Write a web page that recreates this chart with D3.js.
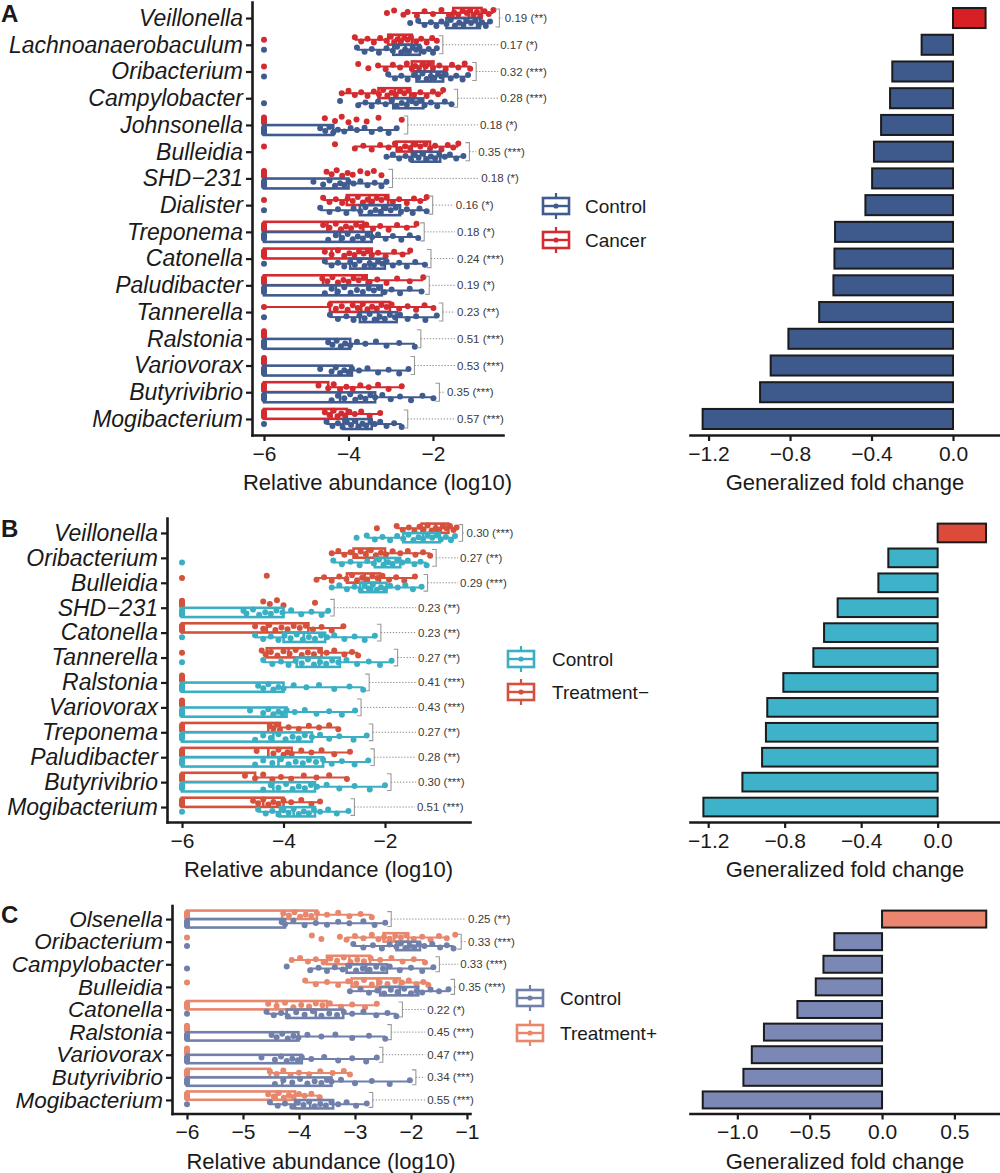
<!DOCTYPE html>
<html><head><meta charset="utf-8">
<script src="https://cdn.jsdelivr.net/npm/d3@7"></script>
<style>body{margin:0;background:#fff}svg{display:block}</style>
</head><body><svg id="c" width="1000" height="1173"></svg>
<script>
// ===== Panel A data =====
const taxaA = ["Veillonella","Lachnoanaerobaculum","Oribacterium","Campylobacter","Johnsonella","Bulleidia","SHD−231","Dialister","Treponema","Catonella","Paludibacter","Tannerella","Ralstonia","Variovorax","Butyrivibrio","Mogibacterium"];
const groupsA = ["Control","Cancer"];
// box stats: [whiskerLow, q1, median, q3, whiskerHigh] (log10)
const boxA_cancer = [[-2.5,-1.52,-1.15,-0.85,-0.57],[-3.85,-3.06,-2.8,-2.5,-1.91],[-3.3,-2.5,-2.2,-1.99,-1.12],[-4.16,-3.29,-2.9,-2.54,-1.76],[-6,-6,-6,-6,-6],[-3.85,-2.86,-2.5,-2.07,-1.4],[-6,-6,-6,-6,-6],[-4.6,-4.04,-3.5,-3.06,-2.15],[-6,-6,-4.5,-3.65,-2.39],[-6,-6,-4.4,-3.45,-2.54],[-6,-6,-4.6,-3.57,-2.23],[-6,-4.44,-3.7,-3.02,-1.99],[-6,-6,-6,-6,-6],[-6,-6,-6,-6,-6],[-6,-6,-6,-4.48,-2.74],[-6,-6,-4.4,-4.04,-3.25]];
const boxA_control = [[-2.35,-1.68,-1.25,-0.89,-0.65],[-3.8,-2.94,-2.65,-2.31,-1.91],[-3.06,-2.39,-2.05,-1.76,-1.17],[-3.77,-2.94,-2.6,-2.23,-1.56],[-6,-6,-6,-4.36,-2.86],[-3.1,-2.5,-2.2,-1.83,-1.28],[-6,-6,-6,-4.0,-3.1],[-4.67,-3.73,-3.2,-2.78,-2.15],[-6,-6,-4.2,-3.45,-2.35],[-4.56,-3.96,-3.5,-3.14,-2.19],[-6,-6,-4.3,-3.21,-2.27],[-4.44,-3.73,-3.3,-2.86,-1.91],[-6,-6,-6,-3.96,-2.43],[-6,-6,-6,-3.92,-2.58],[-6,-6,-4.2,-3.37,-1.99],[-4.52,-4.12,-3.8,-3.45,-2.74]];
const ptsA_cancer = [
[-3.09,-2.92,-2.7,-2.6,-2.38,-2.2,-2.0,-1.8,-1.62,-1.5,-1.4,-1.3,-1.2,-1.12,-1.04,-0.96,-0.88,-0.78,-0.68,-0.57],
[-6,-3.85,-3.7,-3.55,-3.4,-3.25,-3.1,-3.0,-2.92,-2.84,-2.76,-2.68,-2.6,-2.52,-2.4,-2.28,-2.15,-2.02,-1.91],
[-6,-3.77,-3.53,-3.3,-3.12,-2.95,-2.78,-2.62,-2.5,-2.42,-2.33,-2.25,-2.17,-2.09,-2.0,-1.85,-1.7,-1.55,-1.4,-1.25,-1.12],
[-4.16,-4.0,-3.85,-3.7,-3.55,-3.4,-3.28,-3.18,-3.08,-2.98,-2.88,-2.78,-2.68,-2.58,-2.45,-2.3,-2.15,-2.0,-1.88,-1.76],
[-6,-6,-6,-6,-6,-4.56,-4.32,-4.16,-4.0,-3.81,-3.57,-3.29,-2.74],
[-6,-4.32,-3.85,-3.65,-3.45,-3.25,-3.05,-2.9,-2.78,-2.66,-2.54,-2.42,-2.3,-2.18,-2.07,-1.95,-1.8,-1.65,-1.52,-1.4],
[-6,-6,-6,-6,-6,-4.52,-4.4,-4.28,-4.15,-4.02,-3.9,-3.72,-3.55,-3.4,-3.22],
[-6,-4.6,-4.45,-4.3,-4.15,-4.02,-3.9,-3.78,-3.66,-3.55,-3.44,-3.33,-3.22,-3.1,-2.95,-2.8,-2.62,-2.45,-2.3,-2.15],
[-6,-6,-6,-6,-6,-4.6,-4.45,-4.3,-4.18,-4.06,-3.94,-3.82,-3.7,-3.58,-3.42,-3.25,-3.05,-2.85,-2.62,-2.39],
[-6,-6,-6,-6,-6,-4.56,-4.4,-4.25,-4.1,-3.98,-3.86,-3.75,-3.64,-3.54,-3.45,-3.3,-3.12,-2.92,-2.72,-2.54],
[-6,-6,-6,-6,-6,-4.62,-4.5,-4.38,-4.25,-4.12,-4.0,-3.88,-3.76,-3.64,-3.5,-3.32,-3.1,-2.85,-2.55,-2.23],
[-6,-4.44,-4.3,-4.16,-4.02,-3.9,-3.78,-3.66,-3.55,-3.44,-3.33,-3.22,-3.1,-2.98,-2.8,-2.6,-2.4,-2.2,-1.99],
[-6,-6,-6,-6,-6],
[-6,-6,-6,-6,-6],
[-6,-6,-6,-6,-6,-4.71,-4.48,-4.35,-4.2,-4.05,-3.9,-3.72,-3.52,-3.3,-3.05,-2.74],
[-6,-6,-6,-6,-6,-4.56,-4.45,-4.35,-4.26,-4.17,-4.08,-3.98,-3.85,-3.7,-3.5,-3.25]];
const ptsA_control = [
[-2.54,-2.35,-2.2,-2.05,-1.92,-1.8,-1.68,-1.58,-1.48,-1.38,-1.28,-1.2,-1.1,-1.0,-0.92,-0.84,-0.75,-0.65],
[-6,-3.8,-3.62,-3.45,-3.28,-3.1,-2.95,-2.85,-2.75,-2.66,-2.57,-2.48,-2.4,-2.32,-2.22,-2.1,-2.0,-1.91],
[-6,-3.06,-2.9,-2.75,-2.6,-2.45,-2.35,-2.25,-2.15,-2.05,-1.97,-1.88,-1.8,-1.7,-1.58,-1.45,-1.3,-1.17],
[-6,-4.2,-3.77,-3.6,-3.45,-3.3,-3.12,-2.98,-2.86,-2.74,-2.62,-2.5,-2.4,-2.3,-2.2,-2.05,-1.9,-1.72,-1.56],
[-6,-6,-6,-6,-6,-4.67,-4.55,-4.45,-4.36,-4.25,-4.1,-3.95,-3.8,-3.62,-3.45,-3.25,-3.05,-2.86],
[-3.1,-2.95,-2.8,-2.65,-2.52,-2.43,-2.34,-2.25,-2.15,-2.05,-1.95,-1.85,-1.72,-1.6,-1.45,-1.28],
[-6,-6,-6,-6,-6,-4.83,-4.6,-4.45,-4.32,-4.2,-4.1,-4.0,-3.88,-3.72,-3.55,-3.38,-3.22,-3.1],
[-6,-4.67,-4.45,-4.25,-4.05,-3.88,-3.72,-3.6,-3.48,-3.36,-3.24,-3.12,-3.0,-2.88,-2.76,-2.62,-2.48,-2.32,-2.15],
[-6,-6,-6,-6,-4.48,-4.3,-4.15,-4.02,-3.9,-3.78,-3.66,-3.55,-3.44,-3.3,-3.12,-2.95,-2.75,-2.55,-2.35],
[-6,-4.56,-4.4,-4.25,-4.1,-3.96,-3.85,-3.74,-3.62,-3.5,-3.4,-3.3,-3.2,-3.1,-2.95,-2.8,-2.62,-2.42,-2.19],
[-6,-6,-6,-6,-4.56,-4.4,-4.25,-4.1,-3.95,-3.8,-3.66,-3.52,-3.4,-3.28,-3.15,-2.98,-2.78,-2.55,-2.27],
[-6,-4.44,-4.25,-4.05,-3.88,-3.74,-3.62,-3.5,-3.38,-3.26,-3.14,-3.02,-2.9,-2.78,-2.6,-2.4,-2.18,-1.91],
[-6,-6,-6,-6,-6,-4.48,-4.38,-4.28,-4.18,-4.08,-3.96,-3.8,-3.6,-3.35,-3.1,-2.8,-2.43],
[-6,-6,-6,-6,-6,-4.67,-4.4,-4.3,-4.2,-4.1,-4.0,-3.92,-3.75,-3.55,-3.3,-3.05,-2.8,-2.58],
[-6,-6,-6,-6,-4.4,-4.25,-4.1,-3.96,-3.84,-3.72,-3.6,-3.48,-3.37,-3.2,-3.0,-2.78,-2.52,-2.25,-1.99],
[-6,-4.52,-4.38,-4.25,-4.14,-4.04,-3.94,-3.85,-3.76,-3.67,-3.58,-3.48,-3.38,-3.25,-3.1,-2.92,-2.74]];
const pA = ["0.19 (**)","0.17 (*)","0.32 (***)","0.28 (***)","0.18 (*)","0.35 (***)","0.18 (*)","0.16 (*)","0.18 (*)","0.24 (***)","0.19 (*)","0.23 (**)","0.51 (***)","0.53 (***)","0.35 (***)","0.57 (***)"];
const labelAtA = [-0.30,-0.41,-0.41,-0.41,-0.89,-0.93,-0.86,-1.46,-1.43,-1.43,-1.43,-1.43,-1.43,-1.43,-1.67,-1.43];
const fcA = [0.16,-0.154,-0.298,-0.309,-0.353,-0.388,-0.397,-0.43,-0.579,-0.582,-0.587,-0.657,-0.808,-0.895,-0.947,-1.229];
const abTicksA = [-6,-4,-2];
const fcTicksA = [-1.2,-0.8,-0.4,0.0];

// ===== Panel B data =====
const taxaB = ["Veillonella","Oribacterium","Bulleidia","SHD−231","Catonella","Tannerella","Ralstonia","Variovorax","Treponema","Paludibacter","Butyrivibrio","Mogibacterium"];
const groupsB = ["Control","Treatment−"];
const boxB_treat = [[-1.77,-1.28,-1.0,-0.75,-0.59],[-3.05,-2.62,-2.35,-2.0,-1.11],[-3.35,-2.75,-2.4,-2.1,-1.41],[-6,-6,-6,-6,-6],[-6,-6,-4.33,-3.51,-2.82],[-4.43,-4.33,-3.9,-3.25,-2.53],[-6,-6,-6,-6,-6],[-6,-6,-6,-6,-6],[-6,-6,-4.3,-4.07,-2.92],[-6,-6,-4.3,-3.84,-2.69],[-6,-6,-6,-4.56,-2.75],[-6,-6,-4.4,-4.0,-3.28]];
const boxB_control = [[-2.36,-1.64,-1.25,-0.92,-0.62],[-3.02,-2.2,-2.0,-1.7,-1.18],[-3.05,-2.49,-2.25,-1.97,-1.28],[-6,-6,-6,-4.0,-3.12],[-4.56,-4.0,-3.6,-3.18,-2.2],[-4.4,-3.74,-3.3,-2.89,-1.87],[-6,-6,-6,-4.0,-2.43],[-6,-6,-6,-3.94,-2.59],[-6,-6,-4.2,-3.44,-2.36],[-6,-6,-4.1,-3.22,-2.33],[-6,-6,-4.2,-3.38,-2.0],[-4.5,-4.07,-3.8,-3.38,-2.72]];
const ptsB_treat = [
[-2.16,-1.77,-1.65,-1.53,-1.42,-1.32,-1.24,-1.16,-1.08,-1.0,-0.93,-0.86,-0.79,-0.72,-0.65,-0.59],
[-3.05,-2.92,-2.8,-2.68,-2.58,-2.48,-2.38,-2.28,-2.18,-2.08,-1.98,-1.85,-1.7,-1.55,-1.4,-1.25,-1.11],
[-6,-4.33,-3.35,-3.2,-3.05,-2.9,-2.76,-2.65,-2.55,-2.45,-2.35,-2.25,-2.15,-2.05,-1.92,-1.78,-1.62,-1.41],
[-6,-6,-6,-6,-6,-4.4,-4.27,-4.13,-4.0,-3.38],
[-6,-6,-6,-6,-6,-4.56,-4.4,-4.28,-4.16,-4.04,-3.92,-3.8,-3.68,-3.56,-3.42,-3.25,-3.05,-2.82],
[-6,-4.43,-4.35,-4.25,-4.12,-4.0,-3.88,-3.76,-3.64,-3.52,-3.4,-3.28,-3.15,-3.0,-2.8,-2.65,-2.53],
[-6,-6,-6,-6,-6],
[-6,-6,-6,-6,-6],
[-6,-6,-6,-6,-6,-4.27,-4.2,-4.14,-4.07,-3.9,-3.7,-3.5,-3.3,-3.1,-2.92],
[-6,-6,-6,-6,-6,-4.53,-4.2,-4.1,-4.0,-3.92,-3.84,-3.65,-3.45,-3.25,-3.0,-2.69],
[-6,-6,-6,-6,-6,-4.76,-4.56,-4.4,-4.22,-4.05,-3.85,-3.6,-3.35,-3.1,-2.75],
[-6,-6,-6,-6,-6,-4.6,-4.5,-4.4,-4.3,-4.2,-4.1,-4.0,-3.85,-3.65,-3.45,-3.28]];
const ptsB_control = [
[-2.56,-2.36,-2.2,-2.05,-1.9,-1.76,-1.64,-1.54,-1.44,-1.34,-1.25,-1.16,-1.07,-0.98,-0.9,-0.8,-0.7,-0.62],
[-6,-3.02,-2.85,-2.68,-2.5,-2.35,-2.22,-2.12,-2.03,-1.94,-1.85,-1.76,-1.66,-1.55,-1.42,-1.3,-1.18],
[-3.05,-2.9,-2.75,-2.6,-2.48,-2.4,-2.32,-2.24,-2.16,-2.08,-2.0,-1.9,-1.75,-1.6,-1.45,-1.28],
[-6,-6,-6,-6,-6,-4.79,-4.73,-4.6,-4.48,-4.36,-4.25,-4.14,-4.02,-3.85,-3.65,-3.45,-3.25,-3.12],
[-6,-4.56,-4.4,-4.25,-4.1,-3.98,-3.86,-3.74,-3.62,-3.5,-3.38,-3.26,-3.14,-3.0,-2.8,-2.6,-2.4,-2.2],
[-6,-4.4,-4.22,-4.05,-3.9,-3.76,-3.64,-3.52,-3.4,-3.28,-3.16,-3.04,-2.92,-2.76,-2.55,-2.32,-2.1,-1.87],
[-6,-6,-6,-6,-6,-4.5,-4.4,-4.3,-4.2,-4.1,-4.0,-3.8,-3.55,-3.3,-3.0,-2.7,-2.43],
[-6,-6,-6,-6,-6,-4.66,-4.4,-4.3,-4.2,-4.1,-4.02,-3.94,-3.78,-3.58,-3.35,-3.1,-2.85,-2.59],
[-6,-6,-6,-6,-4.56,-4.4,-4.25,-4.1,-3.96,-3.82,-3.7,-3.58,-3.44,-3.28,-3.1,-2.9,-2.62,-2.36],
[-6,-6,-6,-6,-4.56,-4.4,-4.22,-4.05,-3.9,-3.76,-3.62,-3.5,-3.36,-3.22,-3.05,-2.85,-2.6,-2.33],
[-6,-6,-6,-6,-4.4,-4.25,-4.1,-3.95,-3.82,-3.7,-3.58,-3.46,-3.34,-3.15,-2.9,-2.6,-2.3,-2.0],
[-6,-4.5,-4.35,-4.22,-4.1,-4.0,-3.9,-3.8,-3.7,-3.6,-3.5,-3.4,-3.28,-3.12,-2.95,-2.72]];
const pB = ["0.30 (***)","0.27 (**)","0.29 (***)","0.23 (**)","0.23 (**)","0.27 (**)","0.41 (***)","0.43 (***)","0.27 (**)","0.28 (**)","0.30 (***)","0.51 (***)"];
const labelAtB = [-0.52,-0.52,-0.52,-1.35,-1.35,-1.35,-1.35,-1.35,-1.35,-1.35,-1.35,-1.37];
const fcB = [0.253,-0.258,-0.31,-0.523,-0.594,-0.65,-0.807,-0.891,-0.898,-0.918,-1.021,-1.225];
const abTicksB = [-6,-4,-2];
const fcTicksB = [-1.2,-0.8,-0.4,0.0];

// ===== Panel C data =====
const taxaC = ["Olsenella","Oribacterium","Campylobacter","Bulleidia","Catonella","Ralstonia","Variovorax","Butyrivibrio","Mogibacterium"];
const groupsC = ["Control","Treatment+"];
const boxC_treat = [[-6,-6,-4.3,-3.68,-2.7],[-3.15,-2.49,-2.3,-2.05,-1.36],[-4.13,-3.5,-3.1,-2.73,-1.75],[-3.89,-3.06,-2.6,-2.2,-1.69],[-6,-6,-4.4,-3.5,-2.61],[-6,-6,-6,-6,-6],[-6,-6,-6,-6,-6],[-6,-6,-6,-4.52,-3.09],[-6,-6,-4.4,-4.07,-3.63]];
const boxC_control = [[-6,-6,-6,-4.25,-2.46],[-3.03,-2.26,-2.05,-1.84,-1.24],[-3.8,-3.15,-2.8,-2.43,-1.6],[-3.09,-2.55,-2.2,-1.87,-1.33],[-4.58,-4.22,-3.7,-3.21,-2.26],[-6,-6,-6,-4.01,-2.46],[-6,-6,-6,-3.95,-2.61],[-6,-6,-4.3,-3.42,-2.02],[-4.52,-4.07,-3.8,-3.39,-2.79]];
const ptsC_treat = [
[-6,-6,-6,-6,-6,-4.28,-4.18,-4.08,-3.98,-3.88,-3.78,-3.68,-3.5,-3.3,-3.1,-2.9,-2.7],
[-6,-3.77,-3.6,-3.27,-3.15,-3.0,-2.85,-2.7,-2.58,-2.48,-2.38,-2.28,-2.18,-2.08,-1.95,-1.8,-1.65,-1.5,-1.36,-1.21],
[-4.13,-3.98,-3.84,-3.7,-3.56,-3.44,-3.32,-3.2,-3.08,-2.96,-2.84,-2.72,-2.55,-2.35,-2.15,-1.95,-1.75],
[-6,-3.89,-3.7,-3.5,-3.3,-3.12,-2.98,-2.84,-2.7,-2.56,-2.42,-2.28,-2.16,-2.04,-1.9,-1.78,-1.69],
[-6,-6,-6,-6,-6,-4.55,-4.4,-4.25,-4.1,-3.96,-3.82,-3.7,-3.58,-3.45,-3.25,-3.05,-2.82,-2.61],
[-6,-6,-6,-6,-6],
[-6,-6,-6,-6,-6],
[-6,-6,-6,-6,-6,-4.52,-4.4,-4.28,-4.15,-4.0,-3.82,-3.62,-3.4,-3.2,-3.09],
[-6,-6,-6,-6,-6,-4.55,-4.45,-4.36,-4.27,-4.18,-4.1,-4.0,-3.9,-3.78,-3.63]];
const ptsC_control = [
[-6,-6,-6,-6,-6,-4.31,-4.25,-4.1,-3.9,-3.7,-3.5,-3.3,-3.1,-2.85,-2.65,-2.46],
[-6,-3.03,-2.85,-2.68,-2.52,-2.38,-2.26,-2.18,-2.1,-2.02,-1.94,-1.86,-1.76,-1.62,-1.48,-1.36,-1.24],
[-6,-4.22,-3.8,-3.65,-3.5,-3.36,-3.22,-3.1,-2.98,-2.86,-2.74,-2.62,-2.5,-2.38,-2.2,-2.0,-1.8,-1.6],
[-3.09,-2.9,-2.75,-2.6,-2.48,-2.36,-2.24,-2.12,-2.0,-1.9,-1.8,-1.65,-1.5,-1.33],
[-6,-4.58,-4.45,-4.32,-4.2,-4.05,-3.9,-3.75,-3.6,-3.46,-3.32,-3.2,-3.05,-2.85,-2.62,-2.42,-2.26],
[-6,-6,-6,-6,-6,-4.49,-4.4,-4.3,-4.2,-4.1,-4.01,-3.85,-3.6,-3.35,-3.05,-2.75,-2.46],
[-6,-6,-6,-6,-6,-4.67,-4.43,-4.32,-4.22,-4.12,-4.02,-3.95,-3.78,-3.55,-3.3,-3.05,-2.8,-2.61],
[-6,-6,-6,-6,-4.43,-4.28,-4.12,-3.98,-3.85,-3.72,-3.6,-3.5,-3.42,-3.25,-3.0,-2.7,-2.38,-2.02],
[-6,-4.52,-4.38,-4.25,-4.12,-4.02,-3.92,-3.82,-3.72,-3.62,-3.52,-3.42,-3.3,-3.15,-2.98,-2.79]];
const pC = ["0.25 (**)","0.33 (***)","0.33 (***)","0.35 (***)","0.22 (*)","0.45 (***)","0.47 (***)","0.34 (***)","0.55 (***)"];
const labelAtC = [-0.98,-0.98,-1.12,-1.15,-1.71,-1.71,-1.71,-1.71,-1.71];
const fcC = [0.72,-0.33,-0.405,-0.458,-0.585,-0.816,-0.9,-0.958,-1.239];
const abTicksC = [-6,-5,-4,-3,-2,-1];
const fcTicksC = [-1.0,-0.5,0.0,0.5];

// ===== drawing =====
const FONT = "'Liberation Sans', Arial, Helvetica, sans-serif";
const INK = "#1a1a1a";
const svg = d3.select("#c").attr("font-family", FONT);
const jit = [0,-0.7,0.55,-0.25,0.85,-0.5,0.3,-0.9,0.7,-0.1,0.45,-0.6];

function styleAxis(a, fs, italic){
  a.attr("font-family", FONT).attr("font-size", fs);
  a.select(".domain").attr("stroke", INK).attr("stroke-width", 2.6).attr("stroke-linecap","square");
  a.selectAll(".tick line").attr("stroke", INK).attr("stroke-width", 2.2);
  a.selectAll(".tick text").attr("fill", INK).attr("font-size", fs).attr("font-style", italic ? "italic" : "normal");
}

function panel(P){
  const g = svg.append("g");
  const y = d3.scalePoint().domain(P.taxa).range([P.top, P.bottom]).padding(0.6);
  const step = y.step();
  const off = step * 0.19, bh = step * 0.37;
  const x = d3.scaleLinear().domain(P.xDomain).range([P.left, P.right]);

  const sets = [
    {box: P.boxTop, pts: P.ptsTop, col: P.colTop, dy: -off},
    {box: P.boxBot, pts: P.ptsBot, col: P.colBot, dy: off}
  ];
  P.taxa.forEach((t, i) => {
    const cyRow = y(t);
    let maxPx = -Infinity;
    sets.forEach(s => {
      const b = s.box[i], pts = s.pts[i], cy = cyRow + s.dy, col = s.col;
      const gg = g.append("g");
      gg.append("line").attr("x1", x(b[0])).attr("x2", x(b[1])).attr("y1", cy).attr("y2", cy)
        .attr("stroke", col).attr("stroke-width", 2);
      gg.append("line").attr("x1", x(b[3])).attr("x2", x(b[4])).attr("y1", cy).attr("y2", cy)
        .attr("stroke", col).attr("stroke-width", 2);
      gg.append("rect").attr("x", x(b[1])).attr("width", Math.max(0, x(b[3]) - x(b[1])))
        .attr("y", cy - bh/2).attr("height", bh).attr("fill", "#fff")
        .attr("stroke", col).attr("stroke-width", 2.6);
      gg.append("line").attr("x1", x(b[2])).attr("x2", x(b[2])).attr("y1", cy - bh/2).attr("y2", cy + bh/2)
        .attr("stroke", col).attr("stroke-width", 2.6);
      gg.selectAll("circle").data(pts).join("circle")
        .attr("cx", d => x(d)).attr("cy", (d, k) => cy + jit[k % jit.length] * bh * 0.34)
        .attr("r", 3.0).attr("fill", col);
      maxPx = Math.max(maxPx, x(b[4]), x(d3.max(pts)));
    });
    const bx = maxPx + 6;
    const y1 = cyRow - off - bh/2 + 1, y2 = cyRow + off + bh/2 - 1;
    g.append("path").attr("d", `M${bx-4},${y1}H${bx}V${y2}H${bx-4}`)
      .attr("fill", "none").attr("stroke", "#9a9a9a").attr("stroke-width", 1.1);
    const tx = Math.max(x(P.labelAt[i]), bx + 4);
    if (tx - 2 > bx + 1) {
      g.append("line").attr("x1", bx).attr("x2", tx - 2).attr("y1", cyRow).attr("y2", cyRow)
        .attr("stroke", "#8a8a8a").attr("stroke-width", 1).attr("stroke-dasharray", "1.3,1.7");
    }
    g.append("text").attr("x", tx).attr("y", cyRow).attr("dy", "0.35em")
      .attr("font-size", 11.5).attr("fill", "#3a3a3a").text(P.pvals[i]);
  });

  const ya = g.append("g").attr("transform", `translate(${P.left},0)`)
    .call(d3.axisLeft(y).tickSize(6).tickPadding(3).tickSizeOuter(0));
  styleAxis(ya, P.labelSize, true);
  const xa = g.append("g").attr("transform", `translate(0,${P.bottom})`)
    .call(d3.axisBottom(x).tickValues(P.abTicks).tickFormat(d3.format("d")).tickSize(6).tickPadding(5).tickSizeOuter(0));
  styleAxis(xa, 21, false);
  g.append("text").attr("x", (P.left + P.right) / 2).attr("y", P.bottom + 55)
    .attr("text-anchor", "middle").attr("font-size", 22).attr("fill", INK).text("Relative abundance (log10)");

  g.append("text").attr("x", 1).attr("y", P.letterY).attr("font-size", 24).attr("font-weight", "bold")
    .attr("fill", INK).text(P.letter);

  P.groups.forEach((name, k) => {
    const col = k === 0 ? P.colBot : P.colTop;
    const cy = P.legY[k], lx = P.legX, w = 26, h = 16;
    const lg = g.append("g");
    lg.append("line").attr("x1", lx + w/2).attr("x2", lx + w/2).attr("y1", cy - h/2 - 5).attr("y2", cy + h/2 + 5)
      .attr("stroke", col).attr("stroke-width", 2.2);
    lg.append("rect").attr("x", lx).attr("y", cy - h/2).attr("width", w).attr("height", h)
      .attr("fill", "#fff").attr("stroke", col).attr("stroke-width", 2.6);
    lg.append("line").attr("x1", lx).attr("x2", lx + w).attr("y1", cy).attr("y2", cy)
      .attr("stroke", col).attr("stroke-width", 2.4);
    lg.append("circle").attr("cx", lx + w/2).attr("cy", cy).attr("r", 2.6).attr("fill", col);
    lg.append("text").attr("x", P.legTextX).attr("y", cy).attr("dy", "0.36em").attr("font-size", 19)
      .attr("fill", INK).text(name);
  });

  const xb = d3.scaleLinear().domain(P.barDomain).range([690, 1000]);
  const barH = step * 0.75;
  g.append("g").selectAll("rect").data(P.taxa).join("rect")
    .attr("x", (t, i) => xb(Math.min(0, P.fc[i])))
    .attr("width", (t, i) => Math.abs(xb(P.fc[i]) - xb(0)))
    .attr("y", t => y(t) - barH/2).attr("height", barH)
    .attr("fill", (t, i) => P.fc[i] > 0 ? P.barPos : P.barNeg)
    .attr("stroke", "#1b1b1b").attr("stroke-width", 2);
  const ba = g.append("g").attr("transform", `translate(0,${P.bottom})`)
    .call(d3.axisBottom(xb).tickValues(P.fcTicks).tickFormat(d3.format(".1f")).tickSize(6).tickPadding(5).tickSizeOuter(0));
  styleAxis(ba, 21, false);
  g.append("text").attr("x", 845).attr("y", P.bottom + 55).attr("text-anchor", "middle")
    .attr("font-size", 22).attr("fill", INK).text("Generalized fold change");
}

panel({taxa: taxaA, groups: groupsA, boxTop: boxA_cancer, boxBot: boxA_control, ptsTop: ptsA_cancer, ptsBot: ptsA_control,
  pvals: pA, labelAt: labelAtA, fc: fcA, abTicks: abTicksA, fcTicks: fcTicksA, labelSize: 23,
  colTop: "#D42B30", colBot: "#3F5B8F", barPos: "#D71F26", barNeg: "#3E5A8D",
  top: 2, bottom: 435, left: 252, right: 503, xDomain: [-6.284, -0.343], barDomain: [-1.291, 0.2307],
  letter: "A", letterY: 22, legX: 543, legY: [206, 240], legTextX: 585});

panel({taxa: taxaB, groups: groupsB, boxTop: boxB_treat, boxBot: boxB_control, ptsTop: ptsB_treat, ptsBot: ptsB_control,
  pvals: pB, labelAt: labelAtB, fc: fcB, abTicks: abTicksB, fcTicks: fcTicksB, labelSize: 23,
  colTop: "#D5513C", colBot: "#3AAFC4", barPos: "#DC4B3A", barNeg: "#3DB2C8",
  top: 518, bottom: 822, left: 167, right: 470, xDomain: [-6.296, -0.325], barDomain: [-1.295, 0.326],
  letter: "B", letterY: 537, legX: 508, legY: [659, 692], legTextX: 552});

panel({taxa: taxaC, groups: groupsC, boxTop: boxC_treat, boxBot: boxC_control, ptsTop: ptsC_treat, ptsBot: ptsC_control,
  pvals: pC, labelAt: labelAtC, fc: fcC, abTicks: abTicksC, fcTicks: fcTicksC, labelSize: 22.5,
  colTop: "#E8876C", colBot: "#7080AB", barPos: "#EA8670", barNeg: "#7B88B6",
  top: 905.5, bottom: 1113.5, left: 172, right: 470, xDomain: [-6.268, -0.946], barDomain: [-1.327, 0.815],
  letter: "C", letterY: 923, legX: 517, legY: [998, 1033], legTextX: 560});
</script></body></html>
